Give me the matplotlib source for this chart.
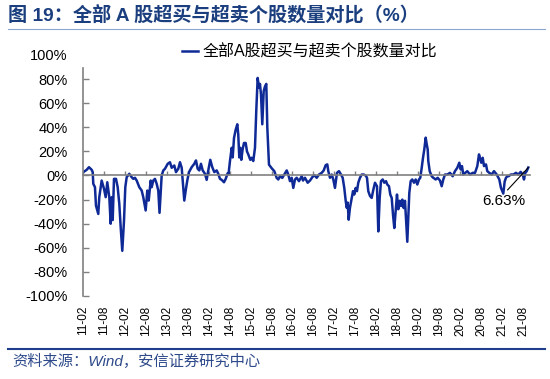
import matplotlib
matplotlib.use('Agg')
import matplotlib.pyplot as plt
from matplotlib.lines import Line2D

plt.rcParams['font.family'] = ['Liberation Sans', 'Noto Sans CJK SC', 'DejaVu Sans']
plt.rcParams['axes.unicode_minus'] = False

# 时间（小数年份）与数值（%）
t = [2011.090, 2011.171, 2011.226, 2011.291, 2011.315, 2011.329, 2011.369, 2011.393, 2011.448, 2011.472,
     2011.529, 2011.584, 2011.625, 2011.663, 2011.711, 2011.744, 2011.768, 2011.792, 2011.823, 2011.871,
     2011.911, 2011.950, 2011.983, 2012.021, 2012.062, 2012.093, 2012.126, 2012.188, 2012.245, 2012.284,
     2012.324, 2012.365, 2012.427, 2012.484, 2012.522, 2012.579, 2012.618, 2012.651, 2012.699, 2012.723,
     2012.761, 2012.801, 2012.842, 2012.880, 2012.910, 2012.961, 2013.000, 2013.040, 2013.105, 2013.159,
     2013.200, 2013.262, 2013.303, 2013.358, 2013.398, 2013.439, 2013.477, 2013.501, 2013.541, 2013.572,
     2013.613, 2013.677, 2013.739, 2013.780, 2013.820, 2013.859, 2013.899, 2013.940, 2013.995, 2014.035,
     2014.073, 2014.121, 2014.169, 2014.217, 2014.274, 2014.312, 2014.353, 2014.393, 2014.448, 2014.489,
     2014.536, 2014.556, 2014.591, 2014.632, 2014.656, 2014.687, 2014.727, 2014.766, 2014.789, 2014.813,
     2014.837, 2014.861, 2014.894, 2014.926, 2014.966, 2014.997, 2015.028, 2015.076, 2015.109, 2015.147,
     2015.188, 2015.219, 2015.252, 2015.284, 2015.307, 2015.331, 2015.362, 2015.396, 2015.427, 2015.458,
     2015.482, 2015.522, 2015.587, 2015.649, 2015.706, 2015.744, 2015.785, 2015.840, 2015.887, 2015.945,
     2015.983, 2016.023, 2016.064, 2016.102, 2016.143, 2016.183, 2016.238, 2016.303, 2016.334, 2016.381,
     2016.446, 2016.501, 2016.556, 2016.603, 2016.661, 2016.716, 2016.780, 2016.828, 2016.875, 2016.914,
     2016.938, 2016.978, 2017.019, 2017.057, 2017.097, 2017.145, 2017.193, 2017.241, 2017.281, 2017.319,
     2017.353, 2017.377, 2017.400, 2017.424, 2017.455, 2017.496, 2017.527, 2017.558, 2017.591, 2017.622,
     2017.653, 2017.694, 2017.735, 2017.782, 2017.830, 2017.861, 2017.892, 2017.933, 2017.973, 2018.011,
     2018.052, 2018.100, 2018.131, 2018.164, 2018.195, 2018.236, 2018.274, 2018.315, 2018.346, 2018.386,
     2018.417, 2018.451, 2018.482, 2018.513, 2018.546, 2018.577, 2018.608, 2018.642, 2018.673, 2018.704,
     2018.737, 2018.768, 2018.799, 2018.823, 2018.847, 2018.871, 2018.904, 2018.942, 2018.983, 2019.023,
     2019.062, 2019.102, 2019.133, 2019.167, 2019.198, 2019.229, 2019.262, 2019.286, 2019.310, 2019.324,
     2019.358, 2019.405, 2019.443, 2019.501, 2019.548, 2019.603, 2019.644, 2019.682, 2019.723, 2019.778,
     2019.842, 2019.906, 2019.961, 2020.016, 2020.064, 2020.097, 2020.128, 2020.159, 2020.207, 2020.255,
     2020.319, 2020.384, 2020.439, 2020.494, 2020.534, 2020.558, 2020.589, 2020.623, 2020.654, 2020.701,
     2020.732, 2020.780, 2020.837, 2020.892, 2020.957, 2021.019, 2021.059, 2021.090, 2021.114, 2021.147,
     2021.178, 2021.210, 2021.243, 2021.291, 2021.353, 2021.417, 2021.472, 2021.529, 2021.577, 2021.608,
     2021.639, 2021.673, 2021.711]

values = [2.8, 4.7, 6.9, 4.7, 2.8, -6.9, -9.7, -25, -31.9, -18,
          -4.2, -11, -18, -5.6, -18, -40, -18, -37, -2.8, -2.8,
          -9.7, -23.6, -43, -62.5, -37.5, -9.7, -1.4, 1.4, -1.4, -2.8,
          -1.9, -4.2, -9.7, -12.5, -18, -29, -12.5, -20.8, -4.2, -9.7,
          -4.2, -2.8, -6.9, -12.5, -31, 0, 4.2, 5.6, 9.7, 11,
          6.4, 8.3, 2.8, 5.6, 11, 6.4, -11, -20.8, -11, -4.2,
          2.8, 6.9, 9.7, 12.5, 5.6, 4.2, 9.7, 4.2, 1.4, -3.6,
          4.2, 13, 6.9, 2.8, 4.2, 1.4, -2.8, -3.6, -5.6, -2.8,
          1.9, 1, 12, 23, 15, 31, 38, 42.5, 34, 15,
          23, 13, 22, 27, 27, 20, 17.5, 13, 14.7, 12,
          23, 54, 81, 73, 76, 67.5, 42.5, 70, 74, 76,
          40, 9, 6, 3.6, -2, -3.3, -0.6, -2, 0.8, 4.2,
          0.8, -4.7, -1.9, -10.3, -3.3, -1.9, -4.7, -0.6, -4.2, -1.9,
          -6, -4.2, -1.4, 0.3, -1.9, 0.8, 2.2, 4.2, 8.6, 9.2,
          3.6, -1.9, 0.8, -3.3, -10.3, 2.2, 3.6, 0.8, -1.9, -10.3,
          -21, -26.7, -22.5, -36.7, -26.7, -18.6, -13, -15.8, -10.3, -13,
          -6, -1.9, 0.8, 0.8, 0, -1.9, -13, -17, -18.6, -12,
          -6, -8.9, -46.4, -18.6, -4.7, -3.3, -6, -4.7, -7.5, -8.9,
          -15.8, -18.6, -32.5, -43.6, -29.7, -15.8, -28, -21, -25.3, -20,
          -27, -21, -41, -55, -35, -14.4, -4.7, -3.3, -6, -3.3,
          -7.5, -3.3, -1.9, 6.4, 14.7, 21.7, 31.4, 26, 21.7, 12,
          3.6, -0.6, -1.9, -3.3, -1.9, -4.2, -8.9, -3.3, 0.8, 0.8,
          2.2, -0.6, 3.6, 6.4, 10.6, 5, 7.8, 0.8, 2.2, 3.6,
          0.8, 2.2, 2.2, 7.8, 17.5, 14.7, 10.6, 14.7, 7.8, 9.2,
          3.6, 2.2, 0.8, 3.6, 0.8, -3.3, -10.3, -13, -15, -5,
          -1.9, -0.6, -0.6, 0.8, 0.8, 2.2, 0.8, 3, 0.8, -3.3,
          2.2, 3.6, 6.63]

tick_labels = ['11-02', '11-08', '12-02', '12-08', '13-02', '13-08', '14-02', '14-08',
               '15-02', '15-08', '16-02', '16-08', '17-02', '17-08', '18-02', '18-08',
               '19-02', '19-08', '20-02', '20-08', '21-02', '21-08']
tick_pos = [2011 + 1 / 12 + 0.5 * i for i in range(len(tick_labels))]
yticks = list(range(-100, 101, 20))

line_color = '#0F2A96'
title_color = '#1B3F7E'
axis_gray = '#808080'

fig = plt.figure(figsize=(5.5, 3.79), dpi=100)
ax = fig.add_axes([0.1509, 0.2190, 0.8127, 0.6359])

ax.plot(t, values, color=line_color, linewidth=1.8, solid_joinstyle='round')

ax.set_xlim(2011 + 1 / 12, 2021.751)
ax.set_ylim(-100, 100)

# 坐标轴样式
for s in ['top', 'right']:
    ax.spines[s].set_visible(False)
ax.spines['left'].set_color(axis_gray)
ax.spines['left'].set_linewidth(1.2)
ax.spines['left'].set_bounds(-100, 89)
ax.spines['bottom'].set_position(('data', 0))
ax.spines['bottom'].set_color(axis_gray)
ax.spines['bottom'].set_linewidth(1.2)

ax.set_yticks(yticks)
ax.set_yticklabels([f'{v}%' for v in yticks], fontsize=10.5)
ax.tick_params(axis='y', direction='in', length=4, width=1, color=axis_gray, pad=11)
ax.yaxis.get_major_ticks()[-1].tick1line.set_visible(False)

ax.set_xticks(tick_pos)
ax.tick_params(axis='x', direction='in', length=3, width=1, color=axis_gray, labelbottom=False)

# 横轴标签放在底部
sec = ax.secondary_xaxis(0)
sec.set_xticks(tick_pos)
sec.set_xticklabels(tick_labels, rotation=90, fontsize=8.5)
sec.tick_params(axis='x', length=0, pad=7)
sec.spines['bottom'].set_visible(False)

# 最新值标注
ax.annotate(f'{values[-1]:.2f}%', xy=(t[-1], values[-1]), xytext=(2021.131, -21),
            ha='center', va='center', fontsize=11,
            arrowprops=dict(arrowstyle='-', color='black', lw=0.8, relpos=(0.5, 1.0),
                            shrinkA=1, shrinkB=0))

# 图例
handle = Line2D([], [], color=line_color, linewidth=1.8)
fig.legend([handle], ['全部A股超买与超卖个股数量对比'], loc='center left',
           bbox_to_anchor=(182 / 550, 1 - 52 / 379), frameon=False, fontsize=11.5,
           handlelength=1.0, handletextpad=0.3, borderpad=0, borderaxespad=0)

# 标题与来源
fig.text(8 / 550, 1 - 15 / 379, '图 19：全部 A 股超买与超卖个股数量对比（%）',
         fontsize=13.8, fontweight='bold', color=title_color, ha='left', va='center')
fig.add_artist(Line2D([8 / 550, 545 / 550], [1 - 29 / 379] * 2, color='#8EA6D2', linewidth=0.8))
fig.add_artist(Line2D([8 / 550, 545 / 550], [1 - 349 / 379] * 2, color='#1F3E8C', linewidth=1.5))
fig.text(12 / 550, 1 - 361 / 379, '资料来源：Wind，安信证券研究中心',
         fontsize=11, style='italic', color='#2E4A8A', ha='left', va='center')

plt.savefig('out.png', dpi=100)
